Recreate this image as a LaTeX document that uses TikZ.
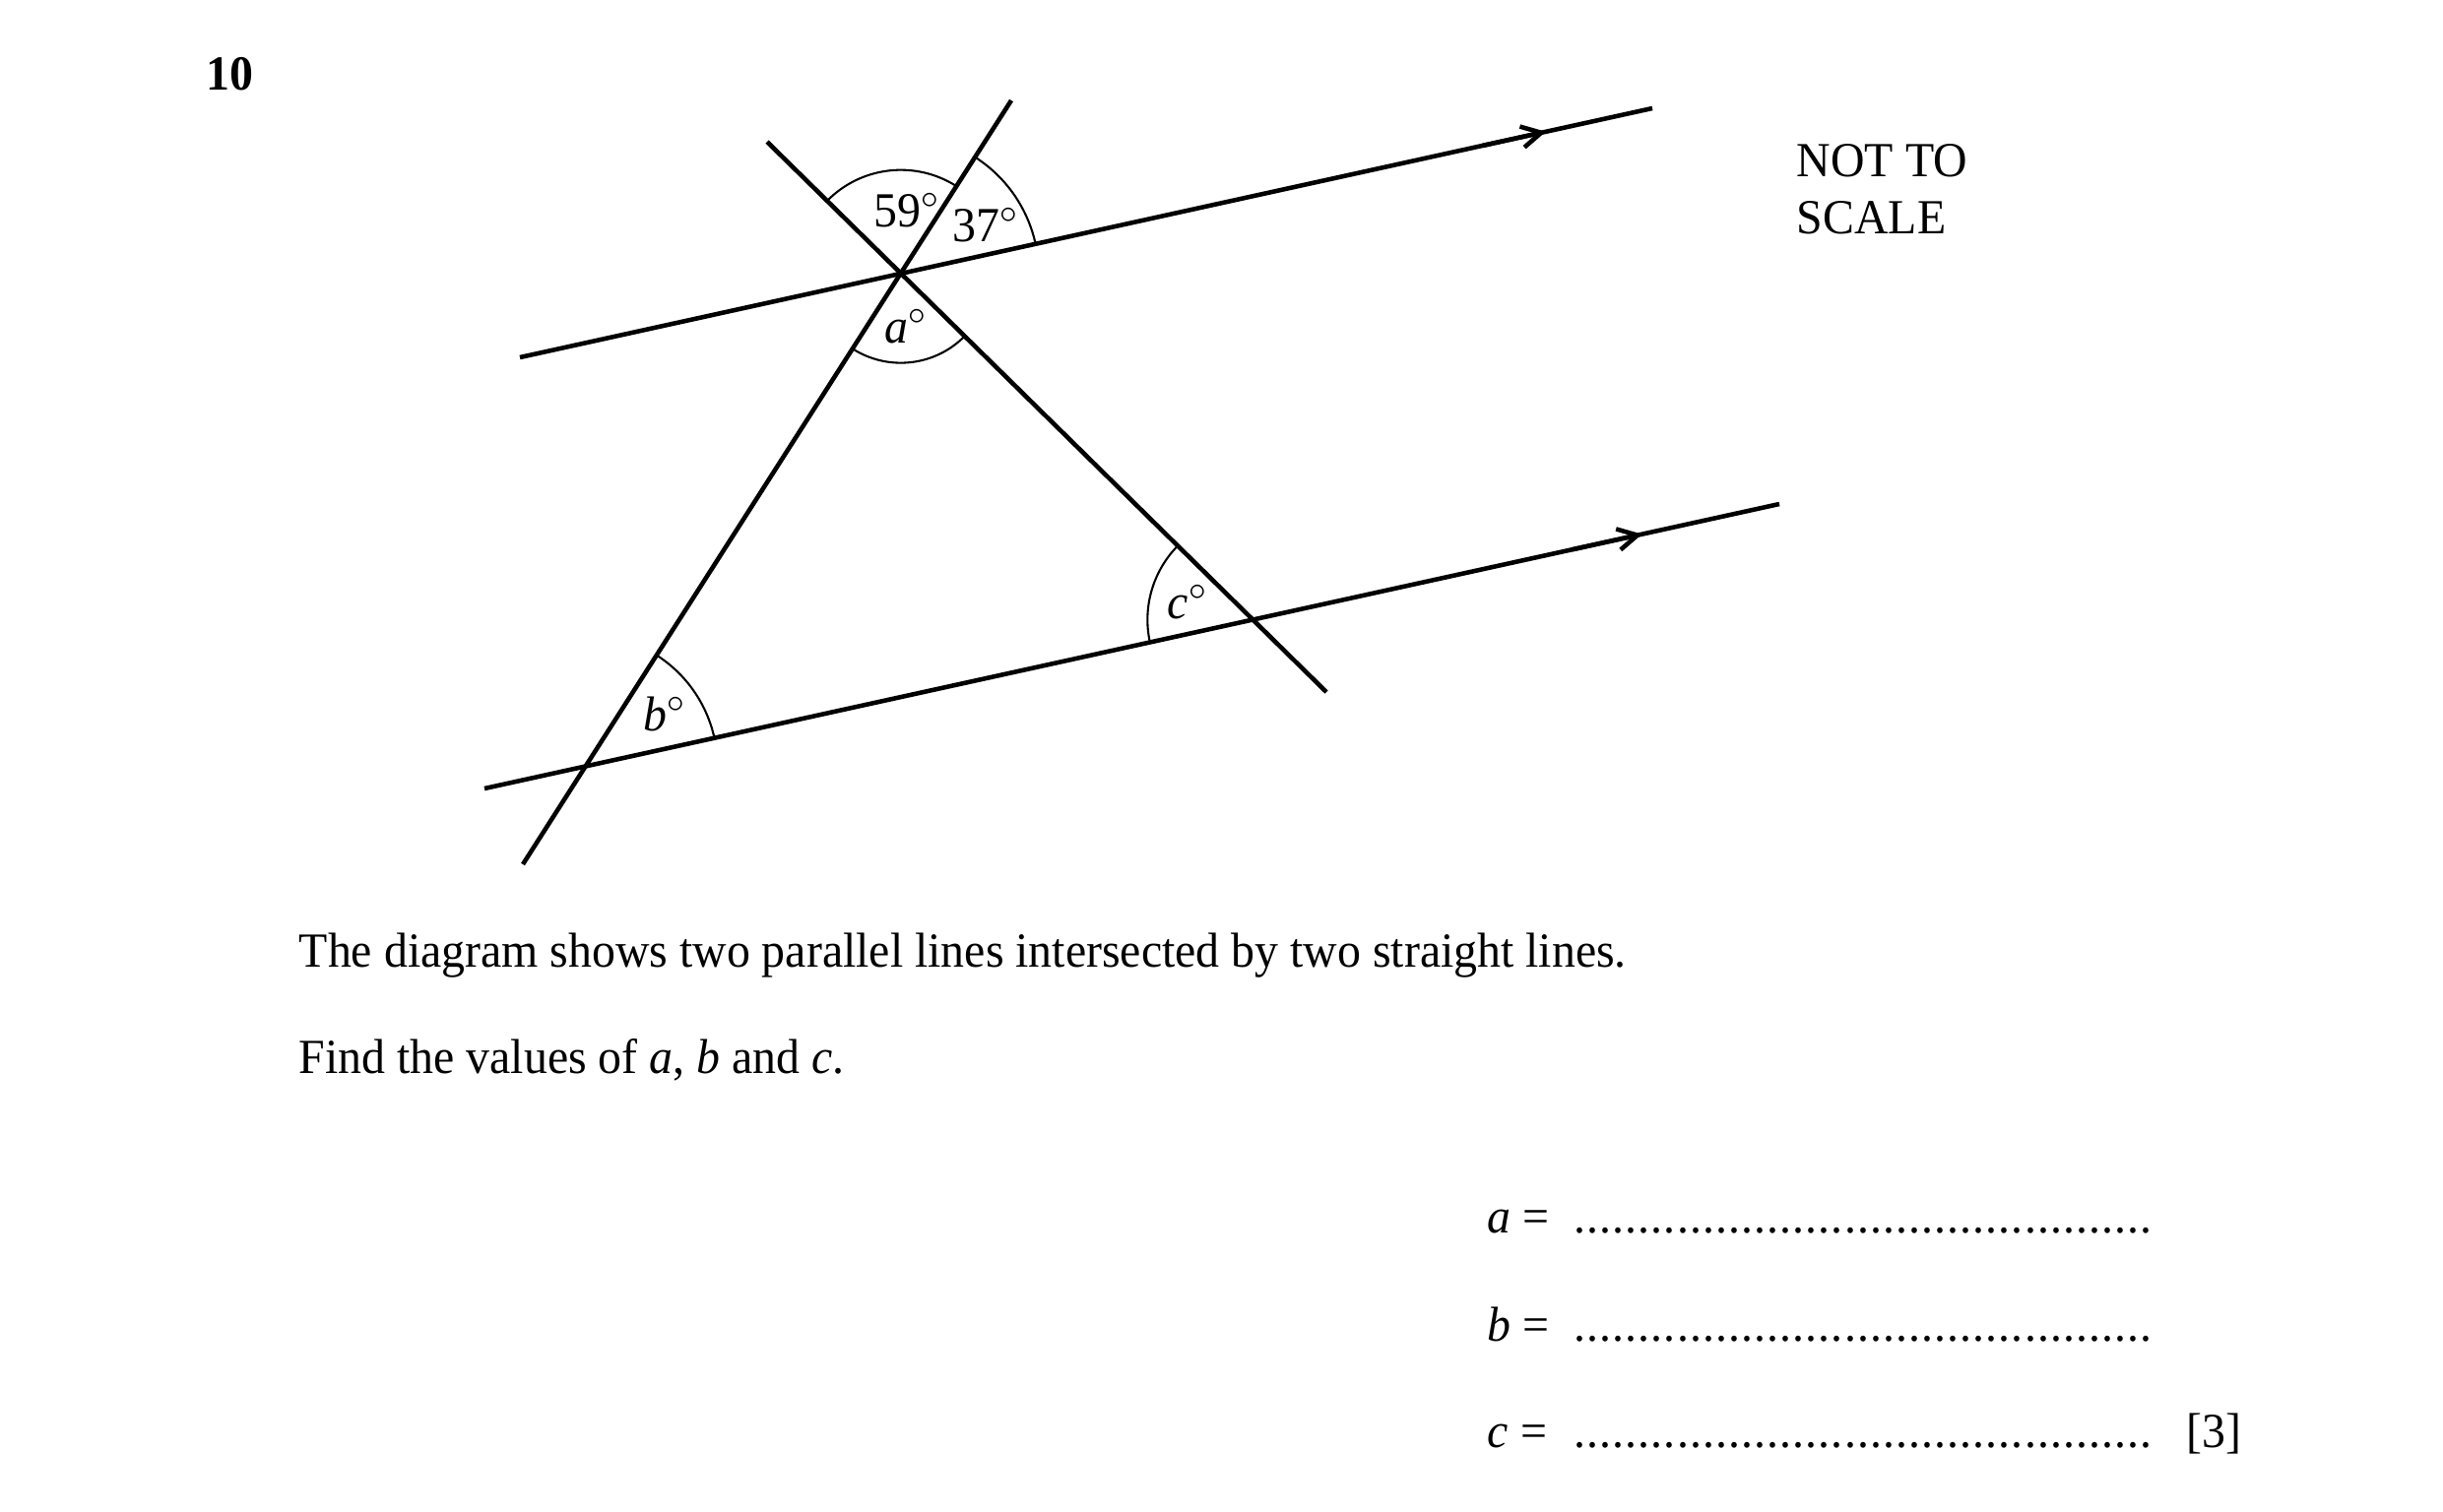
\documentclass[tikz,border=0pt]{standalone}
\usepackage{fontspec}
\setmainfont[FakeStretch=0.96]{Liberation Serif}
\usetikzlibrary{angles,arrows.meta,calc}
\newcommand{\dotrow}{\makebox[141.9pt][l]{\leaders\hbox to 3.15pt{\hss.\hss}\hfill}}
\begin{document}
\begin{tikzpicture}[x=0.2409pt,y=-0.2409pt,
  geo/.style={line width=1.1pt},
  arcline/.style={draw, line width=0.5pt},
  barb/.style={-{Straight Barb[length=4.8pt,width=5.2pt]}},
  txt/.style={inner sep=0pt, anchor=base west, font=\fontsize{12}{14}\selectfont}]
\useasboundingbox (0,0) rectangle (2481,1535);
% geometry
\coordinate (U1) at (528,363);
\coordinate (U2) at (1678,110);
\coordinate (L1) at (492,801);
\coordinate (L2) at (1807,512);
\coordinate (T1) at (1027,102);
\coordinate (B1) at (531,878);
\coordinate (T2) at (779,144);
\coordinate (B2) at (1347,703);
\coordinate (P) at (intersection of T1--B1 and T2--B2);
\coordinate (Q) at (intersection of T1--B1 and L1--L2);
\coordinate (R) at (intersection of T2--B2 and L1--L2);
\coordinate (A1) at ($(U1)!0.906!(U2)$);
\coordinate (A0) at ($(U1)!0.85!(U2)$);
\coordinate (A2) at ($(L1)!0.894!(L2)$);
\coordinate (A3) at ($(L1)!0.84!(L2)$);
% lines
\draw[geo] (U1) -- (U2);
\draw[geo] (L1) -- (L2);
\draw[geo] (T1) -- (B1);
\draw[geo] (T2) -- (B2);
\draw[geo,barb] (A0) -- (A1);
\draw[geo,barb] (A3) -- (A2);
% angle arcs
\pic[arcline, angle radius=25.29pt] {angle = T1--P--T2};
\pic[arcline, angle radius=33.73pt] {angle = U2--P--T1};
\pic[arcline, angle radius=21.92pt] {angle = B1--P--B2};
\pic[arcline, angle radius=32.28pt] {angle = L2--Q--T1};
\pic[arcline, angle radius=25.78pt] {angle = T2--R--L1};
% angle labels
\node[txt] (l59) at (887,230) {59$^{\circ}$};
\node[txt] (l37) at (967,245) {37$^{\circ}$};
\node[txt] (la) at (898,348) {\textit{a}$^{\circ}$};
\node[txt] (lb) at (653,742) {\textit{b}$^{\circ}$};
\node[txt] (lc) at (1185,628) {\textit{c}$^{\circ}$};
% texts
\node[txt] (num) at (209,91) {\textbf{10}};
\node[txt] (nts1) at (1824,179) {NOT TO};
\node[txt] (nts2) at (1824,237) {SCALE};
\node[txt] (p1) at (303,982) {The diagram shows two parallel lines intersected by two straight lines.};
\node[txt] (p2) at (303,1090) {Find the values of \textit{a}, \textit{b} and \textit{c}.};
\node[txt] (ansa) at (1510,1252) {\textit{a} =};
\node[txt] (ansb) at (1510,1362) {\textit{b} =};
\node[txt] (ansc) at (1510,1470) {\textit{c} =};
\node[txt] (da) at (1597,1252) {\dotrow};
\node[txt] (db) at (1597,1362) {\dotrow};
\node[txt] (dc) at (1597,1470) {\dotrow};
\node[txt] (mk) at (2220,1470) {[3]};
\end{tikzpicture}
\end{document}
